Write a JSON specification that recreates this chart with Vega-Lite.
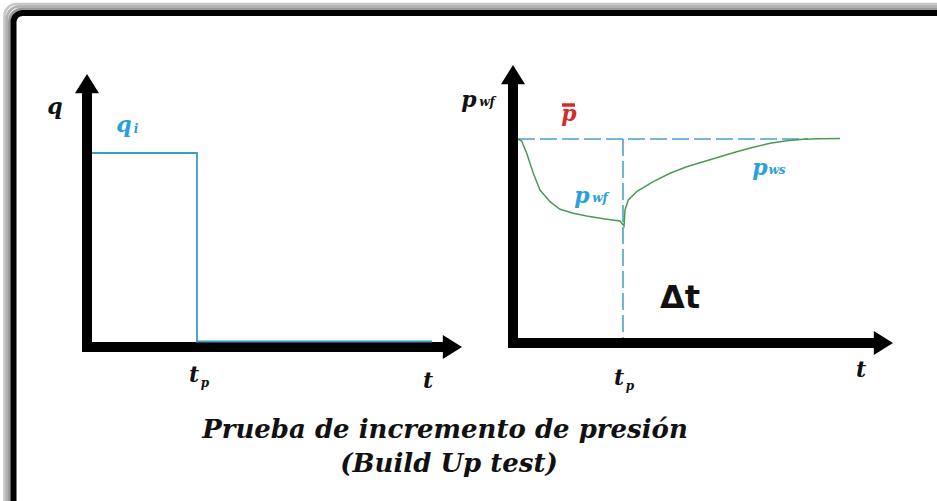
{
  "$schema": "https://vega.github.io/schema/vega-lite/v6.json",
  "width": 937,
  "height": 501,
  "autosize": {"type": "fit", "contains": "padding"},
  "padding": 0,
  "background": "white",
  "config": {"view": {"stroke": null}},
  "encoding": {
    "x": {"field": "x", "type": "quantitative", "scale": {"domain": [0, 937], "nice": false, "zero": false}, "axis": null},
    "y": {"field": "y", "type": "quantitative", "scale": {"domain": [0, 501], "nice": false, "zero": false, "reverse": true}, "axis": null}
  },
  "layer": [
    {
      "data": {"values": [
        {"ring": 1, "x": 9.5, "y": 9, "x2": 990, "y2": 560},
        {"ring": 2, "x": 7, "y": 6.5, "x2": 990, "y2": 560},
        {"ring": 3, "x": 4.5, "y": 4, "x2": 990, "y2": 560}
      ]},
      "mark": {"type": "rect", "filled": false, "stroke": "#444444", "strokeWidth": 2.6, "cornerRadius": 12, "clip": true},
      "encoding": {
        "x2": {"field": "x2"},
        "y2": {"field": "y2"},
        "strokeOpacity": {"field": "ring", "type": "ordinal", "scale": {"domain": [1, 2, 3], "range": [0.55, 0.3, 0.12]}, "legend": null}
      }
    },
    {
      "data": {"values": [{"x": 13.5, "y": 13, "x2": 990, "y2": 560}]},
      "mark": {"type": "rect", "filled": false, "stroke": "black", "strokeWidth": 6, "cornerRadius": 9, "clip": true},
      "encoding": {"x2": {"field": "x2"}, "y2": {"field": "y2"}}
    },
    {
      "data": {"values": [
        {"x": 518, "y": 139, "x2": 808, "y2": 139},
        {"x": 623, "y": 139, "x2": 623, "y2": 338}
      ]},
      "mark": {"type": "rule", "color": "#4aa3c9", "strokeWidth": 1.6, "strokeDash": [17, 5]},
      "encoding": {"x2": {"field": "x2"}, "y2": {"field": "y2"}}
    },
    {
      "data": {"values": [
        {"i": 1, "x": 518, "y": 139},
        {"i": 2, "x": 521.7, "y": 141},
        {"i": 3, "x": 526.7, "y": 153.3},
        {"i": 4, "x": 533.3, "y": 173.3},
        {"i": 5, "x": 540, "y": 190},
        {"i": 6, "x": 550, "y": 201.7},
        {"i": 7, "x": 560, "y": 209.3},
        {"i": 8, "x": 573.3, "y": 213.3},
        {"i": 9, "x": 586.7, "y": 216},
        {"i": 10, "x": 603.3, "y": 218.7},
        {"i": 11, "x": 620, "y": 221},
        {"i": 12, "x": 624, "y": 226},
        {"i": 13, "x": 625, "y": 210},
        {"i": 14, "x": 628.3, "y": 200},
        {"i": 15, "x": 636.7, "y": 191.7},
        {"i": 16, "x": 653.3, "y": 181.7},
        {"i": 17, "x": 670, "y": 173.3},
        {"i": 18, "x": 686.7, "y": 166.7},
        {"i": 19, "x": 703.3, "y": 161.7},
        {"i": 20, "x": 720, "y": 156.7},
        {"i": 21, "x": 736.7, "y": 151.7},
        {"i": 22, "x": 753.3, "y": 147.3},
        {"i": 23, "x": 770, "y": 143.3},
        {"i": 24, "x": 786.7, "y": 140.7},
        {"i": 25, "x": 803.3, "y": 139.3},
        {"i": 26, "x": 820, "y": 138.7},
        {"i": 27, "x": 840, "y": 138.5}
      ]},
      "mark": {"type": "line", "color": "#4c9a52", "strokeWidth": 1.5},
      "encoding": {"order": {"field": "i", "type": "quantitative"}}
    },
    {
      "data": {"values": [
        {"x": 87, "y": 352, "x2": 87, "y2": 88},
        {"x": 82, "y": 347, "x2": 448, "y2": 347},
        {"x": 513, "y": 348, "x2": 513, "y2": 80},
        {"x": 508, "y": 343, "x2": 879, "y2": 343}
      ]},
      "mark": {"type": "rule", "color": "black", "strokeWidth": 10},
      "encoding": {"x2": {"field": "x2"}, "y2": {"field": "y2"}}
    },
    {
      "data": {"values": [{"x": 87, "y": 86}, {"x": 513, "y": 77}]},
      "mark": {"type": "point", "shape": "M0,-1L1,0.6L-1,0.6Z", "size": 576, "filled": true, "color": "black", "opacity": 1, "strokeWidth": 0}
    },
    {
      "data": {"values": [{"x": 450, "y": 347}, {"x": 881, "y": 343}]},
      "mark": {"type": "point", "shape": "M1,0L-0.6,1L-0.6,-1Z", "size": 576, "filled": true, "color": "black", "opacity": 1, "strokeWidth": 0}
    },
    {
      "data": {"values": [
        {"i": 1, "x": 92, "y": 153},
        {"i": 2, "x": 197, "y": 153},
        {"i": 3, "x": 197, "y": 341.5},
        {"i": 4, "x": 432, "y": 341.5}
      ]},
      "mark": {"type": "line", "color": "#3d9cc4", "strokeWidth": 1.8},
      "encoding": {"order": {"field": "i", "type": "quantitative"}}
    },
    {
      "data": {"values": [{"x": 562, "y": 105, "x2": 575, "y2": 105}]},
      "mark": {"type": "rule", "color": "#d62a2a", "strokeWidth": 3.5},
      "encoding": {"x2": {"field": "x2"}, "y2": {"field": "y2"}}
    },
    {
      "data": {"values": [
        {"x": 55, "y": 114, "label": "q"},
        {"x": 194, "y": 382, "label": "t"},
        {"x": 428, "y": 388, "label": "t"},
        {"x": 469, "y": 107, "label": "p"},
        {"x": 619, "y": 385, "label": "t"},
        {"x": 861, "y": 377, "label": "t"}
      ]},
      "mark": {"type": "text", "font": "DejaVu Serif", "fontWeight": "bold", "fontStyle": "italic", "fontSize": 22, "color": "#111111", "align": "center", "baseline": "alphabetic"},
      "encoding": {"text": {"field": "label"}}
    },
    {
      "data": {"values": [
        {"x": 205, "y": 387, "label": "p"},
        {"x": 487, "y": 106, "label": "wf"},
        {"x": 630, "y": 390, "label": "p"}
      ]},
      "mark": {"type": "text", "font": "DejaVu Serif", "fontWeight": "bold", "fontStyle": "italic", "fontSize": 12, "color": "#111111", "align": "center", "baseline": "alphabetic"},
      "encoding": {"text": {"field": "label"}}
    },
    {
      "data": {"values": [
        {"x": 124, "y": 132, "label": "q"},
        {"x": 582, "y": 203, "label": "p"},
        {"x": 760, "y": 175, "label": "p"}
      ]},
      "mark": {"type": "text", "font": "DejaVu Serif", "fontWeight": "bold", "fontStyle": "italic", "fontSize": 22, "color": "#2aa0d8", "align": "center", "baseline": "alphabetic"},
      "encoding": {"text": {"field": "label"}}
    },
    {
      "data": {"values": [
        {"x": 136, "y": 133, "label": "i"},
        {"x": 600, "y": 202, "label": "wf"},
        {"x": 777, "y": 174, "label": "ws"}
      ]},
      "mark": {"type": "text", "font": "DejaVu Serif", "fontWeight": "bold", "fontStyle": "italic", "fontSize": 12, "color": "#2aa0d8", "align": "center", "baseline": "alphabetic"},
      "encoding": {"text": {"field": "label"}}
    },
    {
      "data": {"values": [{"x": 569, "y": 121, "label": "p"}]},
      "mark": {"type": "text", "font": "DejaVu Serif", "fontWeight": "bold", "fontStyle": "italic", "fontSize": 22, "color": "#d62a2a", "align": "center", "baseline": "alphabetic"},
      "encoding": {"text": {"field": "label"}}
    },
    {
      "data": {"values": [{"x": 680, "y": 308, "label": "Δt"}]},
      "mark": {"type": "text", "font": "DejaVu Sans", "fontWeight": "bold", "fontSize": 32, "color": "#111111", "align": "center", "baseline": "alphabetic"},
      "encoding": {"text": {"field": "label"}}
    },
    {
      "data": {"values": [
        {"x": 445, "y": 438, "label": "Prueba de incremento de presión"},
        {"x": 449, "y": 472, "label": "(Build Up test)"}
      ]},
      "mark": {"type": "text", "font": "DejaVu Serif", "fontWeight": "bold", "fontStyle": "italic", "fontSize": 26, "color": "#111111", "align": "center", "baseline": "alphabetic"},
      "encoding": {"text": {"field": "label"}}
    }
  ]
}
